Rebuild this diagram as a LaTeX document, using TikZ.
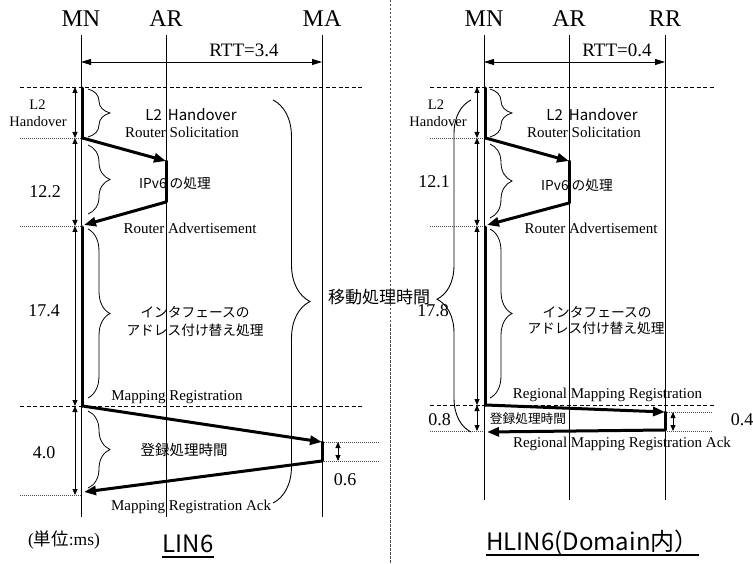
\documentclass[tikz,border=0pt]{standalone}
\usepackage{fontspec}
\setmainfont{Liberation Serif}
\newfontfamily\jp{Noto Sans CJK JP}
\usetikzlibrary{arrows.meta,decorations.pathreplacing}
\newcommand{\myfs}[1]{\fontsize{#1}{#1}\selectfont}
\begin{document}
\begin{tikzpicture}[x=1pt,y=-1pt,
  head/.style={font=\myfs{24}, anchor=base, inner sep=0pt},
  ser/.style={font=\myfs{15}, anchor=base, inner sep=0pt},
  sers/.style={font=\myfs{14.5}, anchor=base, inner sep=0pt},
  num/.style={font=\myfs{18}, anchor=base, inner sep=0pt},
  jpt/.style={font=\jp\myfs{13.7}, anchor=center, inner sep=0pt},
  ttl/.style={font=\jp\myfs{24}, anchor=base, inner sep=0pt},
  life/.style={line width=0.8pt},
  bar/.style={line width=3pt, line cap=round},
  msg/.style={line width=3pt, line cap=round, -{Triangle[length=12pt,width=9pt]}},
  dimarr/.style={line width=0.8pt, {Triangle[length=6pt,width=5pt]}-{Triangle[length=6pt,width=5pt]}},
  rtt/.style={line width=0.8pt, {Triangle[length=10pt,width=6pt]}-{Triangle[length=10pt,width=6pt]}},
  dashline/.style={line width=0.7pt, dash pattern=on 4pt off 2.5pt},
  dotline/.style={line width=0.6pt, dash pattern=on 1pt off 1pt, black!70},
  divider/.style={line width=0.7pt, dash pattern=on 2.5pt off 1.5pt, black!70},
  sbrace/.style={line width=0.8pt, decorate, decoration={brace, amplitude=22pt}},
  ulin/.style={line width=1.5pt}
]
\useasboundingbox (0,0) rectangle (753,564);

% ---------------- divider
\coordinate (Dva) at (390,0);
\coordinate (Dvb) at (390,564);
\draw[divider] (Dva) -- (Dvb);

% ================= LEFT PANEL (LIN6)
\node[head] (LMN) at (81,27) {MN};
\node[head] (LAR) at (166,27) {AR};
\node[head] (LMA) at (322,27) {MA};
\coordinate (LMNt) at (81,35);  \coordinate (LMNb) at (81,517);
\coordinate (LARt) at (166,35); \coordinate (LARb) at (166,517);
\coordinate (LMAt) at (322,35); \coordinate (LMAb) at (322,517);
\draw[life] (LMNt) -- (LMNb);
\draw[life] (LARt) -- (LARb);
\draw[life] (LMAt) -- (LMAb);

% RTT
\coordinate (LRa) at (81,62); \coordinate (LRb) at (322,62);
\draw[rtt] (LRa) -- (LRb);
\node[font=\myfs{19}, anchor=base, inner sep=0pt] (LRTT) at (244,57) {RTT=3.4};

% dashed / dotted guides
\coordinate (Lg1a) at (20,87);  \coordinate (Lg1b) at (362,87);
\coordinate (Lg2a) at (20,406); \coordinate (Lg2b) at (362,406);
\draw[dashline] (Lg1a) -- (Lg1b);
\draw[dashline] (Lg2a) -- (Lg2b);
\coordinate (Lt1a) at (20,138); \coordinate (Lt1b) at (81,138);
\coordinate (Lt2a) at (20,226); \coordinate (Lt2b) at (81,226);
\coordinate (Lt3a) at (20,495); \coordinate (Lt3b) at (81,495);
\coordinate (Lt4a) at (322,442); \coordinate (Lt4b) at (380,442);
\coordinate (Lt5a) at (322,461); \coordinate (Lt5b) at (380,461);
\draw[dotline] (Lt1a) -- (Lt1b);
\draw[dotline] (Lt2a) -- (Lt2b);
\draw[dotline] (Lt3a) -- (Lt3b);
\draw[dotline] (Lt4a) -- (Lt4b);
\draw[dotline] (Lt5a) -- (Lt5b);

% dimension arrows
\coordinate (Lk0) at (75,87); \coordinate (Lk1) at (75,138);
\coordinate (Lk2) at (75,226); \coordinate (Lk3) at (75,406);
\coordinate (Lk4) at (75,495);
\draw[dimarr] (Lk0) -- (Lk1);
\draw[dimarr] (Lk1) -- (Lk2);
\draw[dimarr] (Lk2) -- (Lk3);
\draw[dimarr] (Lk3) -- (Lk4);
\coordinate (Lq0) at (338,442); \coordinate (Lq1) at (338,461);
\draw[dimarr] (Lq0) -- (Lq1);

% messages
\coordinate (L1) at (82.5,88);
\coordinate (L2) at (82.5,138);
\coordinate (L3) at (166,161);
\coordinate (L4) at (166,202);
\coordinate (L5) at (84,225);
\coordinate (L5b) at (82.5,227);
\coordinate (L6) at (82.5,406);
\coordinate (L7) at (322,442);
\coordinate (L8) at (322,461);
\coordinate (L9) at (84,492);
\draw[bar] (L1) -- (L2);
\draw[msg] (L2) -- (L3);
\draw[bar] (L3) -- (L4);
\draw[msg] (L4) -- (L5);
\draw[bar] (L5b) -- (L6);
\draw[msg] (L6) -- (L7);
\draw[bar] (L7) -- (L8);
\draw[msg] (L8) -- (L9);

% small braces
\coordinate (Lb1a) at (88,89);  \coordinate (Lb1b) at (88,137);
\coordinate (Lb2a) at (88,145); \coordinate (Lb2b) at (88,214);
\coordinate (Lb3a) at (88,229); \coordinate (Lb3b) at (88,398);
\coordinate (Lb4a) at (88,411); \coordinate (Lb4b) at (88,488);
\draw[sbrace] (Lb1a) -- (Lb1b);
\draw[sbrace] (Lb2a) -- (Lb2b);
\draw[sbrace] (Lb3a) -- (Lb3b);
\draw[sbrace] (Lb4a) -- (Lb4b);

% big brace
\coordinate (LBa) at (273,100); \coordinate (LBb) at (273,503);
\draw[line width=0.9pt, decorate, decoration={brace, amplitude=37pt}] (LBa) -- (LBb);

% left labels
\node[sers] (LL2a) at (37.5,110) {L2};
\node[sers] (LL2b) at (38,127) {Handover};
\node[num] (Ln1) at (45,198) {12.2};
\node[num] (Ln2) at (44,317) {17.4};
\node[num] (Ln3) at (44,458) {4.0};
\node[num] (Ln4) at (345,485) {0.6};

% message labels
\node[font=\jp\myfs{15}, anchor=base, inner sep=0pt] (LHo) at (191,121) {L2\hspace{6pt}Handover};
\node[ser] (LRS) at (182,138) {Router Solicitation};
\node[jpt] (LIP) at (175,183) {IPv6 の処理};
\node[ser] (LRA) at (190,234) {Router Advertisement};
\node[jpt] (LIF1) at (195,312) {インタフェースの};
\node[jpt] (LIF2) at (195,330) {アドレス付け替え処理};
\node[ser] (LMR) at (177,400) {Mapping Registration};
\node[jpt, font=\jp\myfs{14.5}] (LTR) at (184,450) {登録処理時間};
\node[ser] (LMRA) at (191,510) {Mapping Registration Ack};

\node[jpt, font=\jp\myfs{17}] (Move) at (379,297) {移動処理時間};

\node[font=\myfs{17.5}, anchor=center, inner sep=0pt] (Unit) at (64,540) {({\jp 単位}:ms)};
\node[ttl] (TL) at (188,552) {LIN6};
\draw[ulin] ([yshift=-5pt]TL.base west) -- ([yshift=-5pt]TL.base east);

% ================= RIGHT PANEL (HLIN6)
\node[head] (RMN) at (484,27) {MN};
\node[head] (RAR) at (569,27) {AR};
\node[head] (RRR) at (665,27) {RR};
\coordinate (RMNt) at (484,35); \coordinate (RMNb) at (484,500);
\coordinate (RARt) at (569,35); \coordinate (RARb) at (569,500);
\coordinate (RRRt) at (665,35); \coordinate (RRRb) at (665,500);
\draw[life] (RMNt) -- (RMNb);
\draw[life] (RARt) -- (RARb);
\draw[life] (RRRt) -- (RRRb);

\coordinate (RRa) at (484,62); \coordinate (RRb) at (665,62);
\draw[rtt] (RRa) -- (RRb);
\node[font=\myfs{19}, anchor=base, inner sep=0pt] (RRTT) at (617,57) {RTT=0.4};

\coordinate (Rg1a) at (430,87);  \coordinate (Rg1b) at (715,87);
\coordinate (Rg2a) at (430,405); \coordinate (Rg2b) at (715,405);
\draw[dashline] (Rg1a) -- (Rg1b);
\draw[dashline] (Rg2a) -- (Rg2b);
\coordinate (Rt1a) at (430,138); \coordinate (Rt1b) at (484,138);
\coordinate (Rt2a) at (430,226); \coordinate (Rt2b) at (484,226);
\coordinate (Rt3a) at (430,431); \coordinate (Rt3b) at (484,431);
\coordinate (Rt4a) at (665,412); \coordinate (Rt4b) at (713,412);
\coordinate (Rt5a) at (665,431); \coordinate (Rt5b) at (713,431);
\draw[dotline] (Rt1a) -- (Rt1b);
\draw[dotline] (Rt2a) -- (Rt2b);
\draw[dotline] (Rt3a) -- (Rt3b);
\draw[dotline] (Rt4a) -- (Rt4b);
\draw[dotline] (Rt5a) -- (Rt5b);

\coordinate (Rk0) at (477,87);  \coordinate (Rk1) at (477,138);
\coordinate (Rk2) at (477,226); \coordinate (Rk3) at (477,405);
\coordinate (Rk4) at (477,431);
\draw[dimarr] (Rk0) -- (Rk1);
\draw[dimarr] (Rk1) -- (Rk2);
\draw[dimarr] (Rk2) -- (Rk3);
\draw[dimarr] (Rk3) -- (Rk4);
\coordinate (Rq0) at (673,412); \coordinate (Rq1) at (673,431);
\draw[dimarr] (Rq0) -- (Rq1);

\coordinate (R1) at (485.5,88);
\coordinate (R2) at (485.5,138);
\coordinate (R3) at (569,161);
\coordinate (R4) at (569,203);
\coordinate (R5) at (487,225);
\coordinate (R5b) at (485.5,227);
\coordinate (R6) at (485.5,405);
\coordinate (R7) at (665,412);
\coordinate (R8) at (665,430);
\coordinate (R9) at (487,432);
\draw[bar] (R1) -- (R2);
\draw[msg] (R2) -- (R3);
\draw[bar] (R3) -- (R4);
\draw[msg] (R4) -- (R5);
\draw[bar] (R5b) -- (R6);
\draw[msg] (R6) -- (R7);
\draw[bar] (R7) -- (R8);
\draw[msg] (R8) -- (R9);

\coordinate (Rb1a) at (490,89);  \coordinate (Rb1b) at (490,137);
\coordinate (Rb2a) at (490,144); \coordinate (Rb2b) at (490,218);
\coordinate (Rb3a) at (490,229); \coordinate (Rb3b) at (490,398);
\draw[sbrace] (Rb1a) -- (Rb1b);
\draw[sbrace] (Rb2a) -- (Rb2b);
\draw[sbrace] (Rb3a) -- (Rb3b);

\coordinate (RBa) at (471,100); \coordinate (RBb) at (471,432);
\draw[line width=0.9pt, decorate, decoration={brace, mirror, amplitude=34pt, aspect=0.6}] (RBa) -- (RBb);

\node[sers] (RL2a) at (436,110) {L2};
\node[sers] (RL2b) at (438,127) {Handover};
\node[num] (Rn1) at (434,188) {12.1};
\node[num] (Rn2) at (433,317) {17.8};
\node[num] (Rn3) at (439.5,425) {0.8};
\node[num] (Rn4) at (742,425) {0.4};

\node[font=\jp\myfs{15}, anchor=base, inner sep=0pt] (RHo) at (592,121) {L2\hspace{6pt}Handover};
\node[ser] (RRS) at (584,138) {Router Solicitation};
\node[jpt] (RIP) at (577,185) {IPv6 の処理};
\node[ser] (RRA) at (591,234) {Router Advertisement};
\node[jpt] (RIF1) at (597,312) {インタフェースの};
\node[jpt] (RIF2) at (596,328) {アドレス付け替え処理};
\node[ser] (RMR) at (607.5,398) {Regional Mapping Registration};
\node[jpt, font=\jp\myfs{12.7}] (RTR) at (528,419) {登録処理時間};
\node[ser] (RMRA) at (622,447) {Regional Mapping Registration Ack};

\node[ttl] (TR) at (592.5,550) {HLIN6(Domain内）};
\draw[ulin] ([yshift=-5pt]TR.base west) -- ([yshift=-5pt]TR.base east);
\end{tikzpicture}
\end{document}
